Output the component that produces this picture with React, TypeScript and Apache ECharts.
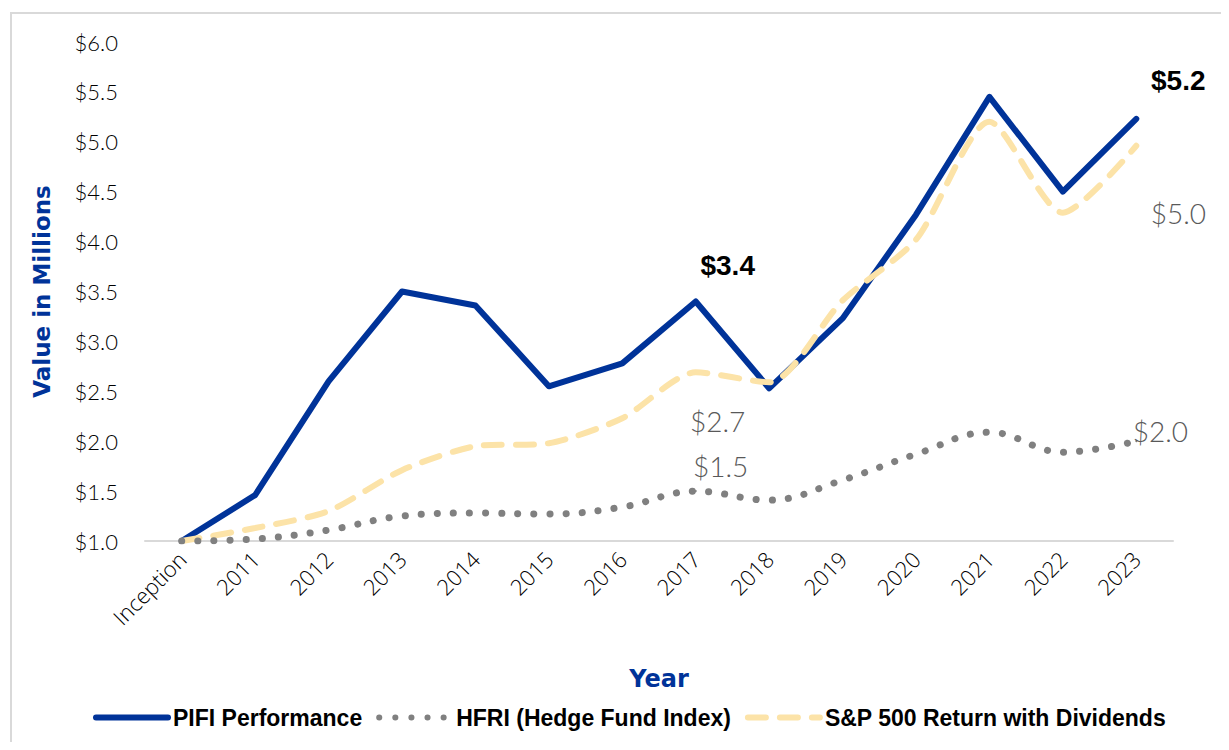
import React, { useEffect, useRef } from "react";
import * as echarts from "echarts";

const categories = ["Inception", "2011", "2012", "2013", "2014", "2015", "2016", "2017", "2018", "2019", "2020", "2021", "2022", "2023"];
const pifi = [1.0, 1.46, 2.6, 3.5, 3.36, 2.55, 2.78, 3.4, 2.53, 3.23, 4.27, 5.45, 4.5, 5.23];
const hfri = [1.0, 1.02, 1.11, 1.25, 1.28, 1.27, 1.34, 1.5, 1.41, 1.61, 1.87, 2.09, 1.89, 2.0];
const sp500 = [1.0, 1.13, 1.3, 1.71, 1.95, 1.98, 2.23, 2.69, 2.59, 3.41, 4.02, 5.2, 4.29, 4.96];

const FONT = "Lato, 'DejaVu Sans', sans-serif";
const XFONT = "'Open Sans', Lato, sans-serif";
const WIDE_BOLD = "'DejaVu Sans', sans-serif";
const BOLD_FONT = "'Liberation Sans Narrow', 'Liberation Sans', sans-serif";

function withLabels(values: number[], labels: Record<number, any>, color: string) {
  return values.map((v, i) =>
    labels[i]
      ? { value: v, symbol: "circle", symbolSize: 2, itemStyle: { color }, label: labels[i] }
      : v
  );
}

export default function App() {
  const ref = useRef<HTMLDivElement>(null);
  useEffect(() => {
    if (!ref.current) return;
    const chart = echarts.init(ref.current, null, { renderer: "svg" });
    const boldLabel = (offset: number[]) => ({
      show: true,
      position: "top",
      offset,
      formatter: (p: any) => "$" + p.value.toFixed(1),
      fontFamily: BOLD_FONT,
      fontWeight: "bold",
      fontSize: 28,
      color: "#000",
    });
    const grayLabel = (position: string, offset: number[]) => ({
      show: true,
      position,
      offset,
      formatter: (p: any) => "$" + p.value.toFixed(1),
      fontFamily: FONT,
      fontWeight: 300,
      fontSize: 28,
      color: "#595959",
    });
    chart.setOption({
      animation: false,
      grid: { left: 145, right: 56, top: 42, bottom: 209 },
      xAxis: {
        type: "category",
        data: categories,
        boundaryGap: true,
        name: "Year",
        nameLocation: "middle",
        nameGap: 126,
        nameTextStyle: { color: "#003399", fontWeight: "bold", fontSize: 24, fontFamily: WIDE_BOLD },
        axisLine: { lineStyle: { color: "#d9d9d9", width: 2 } },
        axisTick: { show: false },
        axisLabel: { rotate: 45, fontSize: 22, color: "#000", fontFamily: XFONT, fontWeight: 300, margin: 14, interval: 0 },
      },
      yAxis: {
        type: "value",
        min: 1,
        max: 6,
        interval: 0.5,
        name: "Value in Millions",
        nameLocation: "middle",
        nameGap: 92,
        nameTextStyle: { color: "#003399", fontWeight: "bold", fontSize: 23, fontFamily: WIDE_BOLD },
        axisLine: { show: false },
        axisTick: { show: false },
        splitLine: { show: false },
        axisLabel: {
          formatter: (v: number) => "$" + v.toFixed(1),
          fontSize: 22,
          color: "#000",
          fontFamily: FONT,
          fontWeight: 300,
          margin: 27,
        },
      },
      legend: {
        bottom: 16,
        left: 88,
        itemWidth: 72,
        itemHeight: 14,
        itemGap: 14,
        lineStyle: { width: 6 },
        itemStyle: { opacity: 0 },
        textStyle: { fontFamily: BOLD_FONT, fontWeight: "bold", fontSize: 23, color: "#000" },
        data: ["PIFI Performance", "HFRI (Hedge Fund Index)", "S&P 500 Return with Dividends"],
      },
      series: [
        {
          name: "S&P 500 Return with Dividends",
          type: "line",
          smooth: 0.25,
          symbol: "none",
          lineStyle: { color: "#FCE3A8", width: 6, type: [18, 14], cap: "round" },
          itemStyle: { color: "#FCE3A8" },
          data: withLabels(sp500, { 7: grayLabel("bottom", [22, 29]), 13: grayLabel("bottom", [42, 47]) }, "#FCE3A8"),
          z: 2,
        },
        {
          name: "HFRI (Hedge Fund Index)",
          type: "line",
          smooth: 0.4,
          symbol: "none",
          lineStyle: { color: "#808080", width: 7, type: [0.1, 16], cap: "round" },
          itemStyle: { color: "#808080" },
          data: withLabels(hfri, { 7: grayLabel("top", [25, -5]), 13: grayLabel("top", [24, 10]) }, "#808080"),
          z: 2,
        },
        {
          name: "PIFI Performance",
          type: "line",
          symbol: "none",
          lineStyle: { color: "#003399", width: 6, cap: "round", join: "round" },
          itemStyle: { color: "#003399" },
          data: withLabels(pifi, { 7: boldLabel([32, -16]), 13: boldLabel([42, -18]) }, "#003399"),
          z: 1,
        },
      ],
    });
    return () => chart.dispose();
  }, []);
  return (
    <div style={{ position: "relative", width: 1229, height: 750, margin: -8, background: "#fff" }}>
      <div
        style={{
          position: "absolute",
          left: 10,
          top: 12,
          width: 1240,
          height: 760,
          border: "2px solid #d9d9d9",
          boxSizing: "border-box",
        }}
      />
      <div ref={ref} style={{ position: "absolute", left: 0, top: 0, width: 1229, height: 750 }} />
    </div>
  );
}
